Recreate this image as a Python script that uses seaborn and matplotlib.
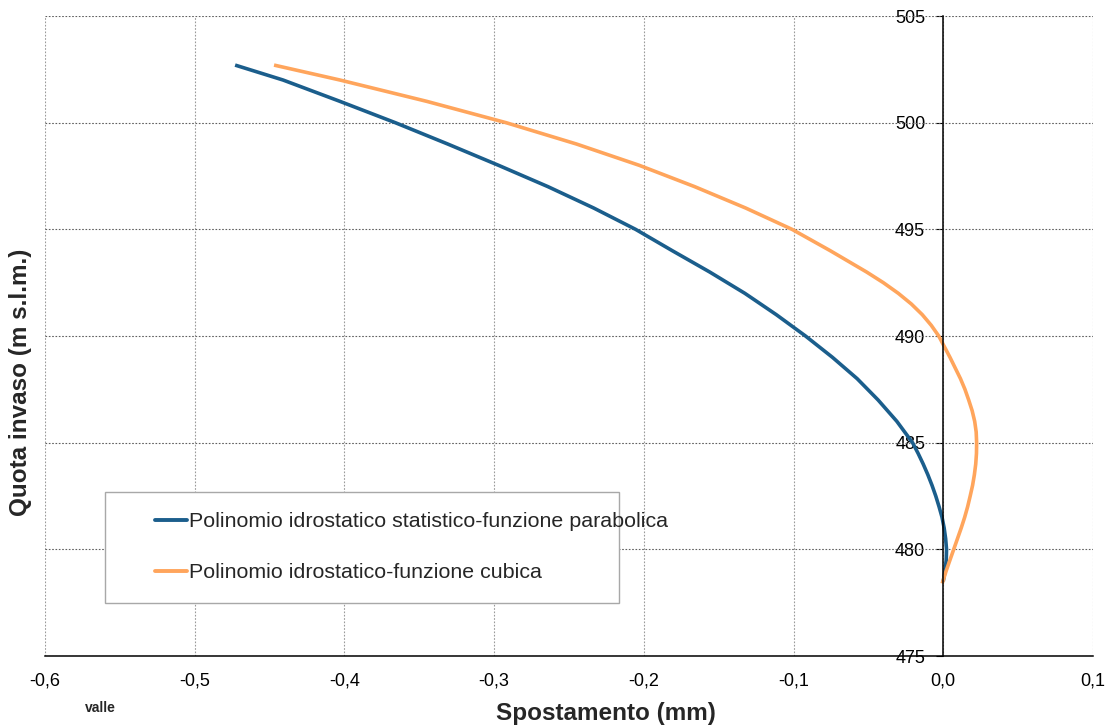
import pandas as pd
import matplotlib
matplotlib.use("Agg")
import matplotlib.pyplot as plt
import seaborn as sns
from matplotlib.patches import Rectangle
from matplotlib.ticker import FuncFormatter

sns.set_theme(style="white")
plt.rcParams["font.family"] = ["Liberation Sans", "DejaVu Sans"]

# series values (displacement in mm, elevation in m)
parab_y = [478.5, 479.0, 479.5, 480.0, 480.5, 481.0, 481.5, 482.0, 482.5,
           483.0, 483.5, 484.0, 484.5, 485.0, 486.0, 487.0, 488.0, 489.0,
           490.0, 491.0, 492.0, 493.0, 494.0, 495.0, 496.0, 497.0, 498.0,
           499.0, 500.0, 501.0, 502.0, 502.7]
parab_x = [0.000, 0.0012, 0.002, 0.0022, 0.0016, 0.0006, -0.0008, -0.0028, -0.005,
           -0.0075, -0.0103, -0.0134, -0.0168, -0.0205, -0.031, -0.0435, -0.0575, -0.074,
           -0.092, -0.1115, -0.1325, -0.156, -0.181, -0.2055, -0.2335, -0.264, -0.297,
           -0.331, -0.366, -0.403, -0.441, -0.473]

cubic_y = [478.4, 479.0, 479.5, 480.0, 480.5, 481.0, 481.5, 482.0, 482.5,
           483.0, 483.5, 484.0, 484.5, 485.0, 485.5, 486.0, 486.5, 487.0,
           487.5, 488.0, 488.5, 489.0, 489.6, 490.0, 490.5, 491.0, 491.5,
           492.0, 492.5, 493.0, 494.0, 495.0, 496.0, 497.0, 498.0, 499.0,
           500.0, 501.0, 502.0, 502.7]
cubic_x = [-0.0007, 0.002, 0.0045, 0.007, 0.0095, 0.012, 0.0143, 0.0163, 0.018,
           0.0196, 0.0208, 0.0217, 0.0222, 0.0223, 0.022, 0.021, 0.0193, 0.017,
           0.0145, 0.0115, 0.008, 0.0045, 0.000, -0.003, -0.008, -0.014, -0.0213,
           -0.030, -0.0400, -0.0512, -0.0755, -0.101, -0.132, -0.166, -0.203, -0.245,
           -0.292, -0.345, -0.403, -0.447]

labels = ["Polinomio idrostatico statistico-funzione parabolica",
          "Polinomio idrostatico-funzione cubica"]
colors = ["#1b5e8c", "#ffa55c"]

x_ticks = [-0.6, -0.5, -0.4, -0.3, -0.2, -0.1, 0.0, 0.1]
y_ticks = [475, 480, 485, 490, 495, 500, 505]

df = pd.concat([
    pd.DataFrame({"x": parab_x, "y": parab_y, "serie": labels[0]}),
    pd.DataFrame({"x": cubic_x, "y": cubic_y, "serie": labels[1]}),
])

fig = plt.figure(figsize=(11.05, 7.28), dpi=100)
ax = fig.add_axes([0.0407, 0.0989, 0.9484, 0.8791])

sns.lineplot(data=df, x="x", y="y", hue="serie", palette=colors, sort=False,
             estimator=None, linewidth=2.6, ax=ax, legend=False, zorder=5)
for ln in ax.lines:
    ln.set_solid_joinstyle("round")
    ln.set_solid_capstyle("butt")

ax.set_xlim(-0.6, 0.1)
ax.set_ylim(475, 505)
ax.set_xticks(x_ticks)
ax.set_yticks(y_ticks)
ax.xaxis.set_major_formatter(FuncFormatter(lambda v, p: f"{v:.1f}".replace(".", ",")))

# grid
ax.grid(False)
for t in x_ticks:
    ax.axvline(t, color="#9a9a9a", linestyle=(0, (1.5, 1.5)), linewidth=0.8, zorder=1)
for t in y_ticks:
    ax.axhline(t, color="#606060", linestyle=(0, (1.5, 1.5)), linewidth=0.8, zorder=1)

# spines: y axis crossing at x=0
ax.spines["left"].set_position(("data", 0))
ax.spines["right"].set_visible(False)
ax.spines["top"].set_visible(False)
for s in ["left", "bottom"]:
    ax.spines[s].set_color("black")
    ax.spines[s].set_linewidth(1.1)
    ax.spines[s].set_zorder(6)
ax.tick_params(axis="both", direction="out", length=5, width=0.8, color="black",
               labelsize=13, labelcolor="black")
ax.tick_params(axis="x", pad=7)
ax.tick_params(axis="y", pad=8, left=True)
for lbl in ax.get_yticklabels():
    lbl.set_bbox(dict(facecolor="white", edgecolor="none", pad=0.5))

ax.set_xlabel("")
ax.set_ylabel("")
fig.text(0.548, 0.020, "Spostamento (mm)", ha="center", va="center",
         fontsize=17.5, fontweight="bold")
fig.text(0.019, 0.475, "Quota invaso (m s.l.m.)", ha="center", va="center",
         rotation=90, fontsize=17.5, fontweight="bold")
fig.text(0.077, 0.027, "valle", ha="left", va="center", fontsize=10, fontweight="bold")

# legend box
ax.add_patch(Rectangle((0.057, 0.083), 0.491, 0.173, transform=ax.transAxes,
                       facecolor="white", edgecolor="#a8a8a8", linewidth=1.0, zorder=7))
handles = [plt.Line2D([], [], color=c, linewidth=2.8) for c in colors]
leg = ax.legend(handles, labels, loc="center left", bbox_to_anchor=(0.105, 0.170),
                frameon=False, fontsize=15.4, handlelength=1.5, handletextpad=0.1,
                labelspacing=1.5, borderpad=0, borderaxespad=0)
leg.set_zorder(8)

fig.savefig("out.png", dpi=100)
